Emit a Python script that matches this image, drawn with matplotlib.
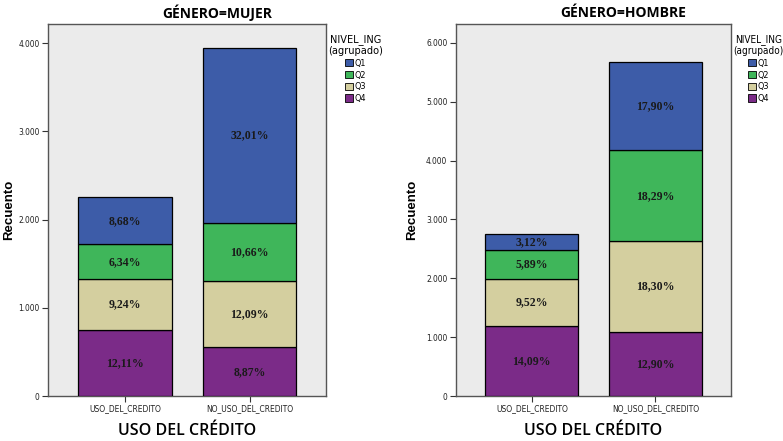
import matplotlib.pyplot as plt
from matplotlib.patches import Patch

# categories on the x axis and income levels (stack order bottom -> top is Q4, Q3, Q2, Q1)
categories = ["USO_DEL_CREDITO", "NO_USO_DEL_CREDITO"]
levels = ["Q1", "Q2", "Q3", "Q4"]

# counts
mujer_q1 = [538, 1985]
mujer_q2 = [393, 661]
mujer_q3 = [573, 750]
mujer_q4 = [751, 550]
mujer_pct_q1 = ["8,68%", "32,01%"]
mujer_pct_q2 = ["6,34%", "10,66%"]
mujer_pct_q3 = ["9,24%", "12,09%"]
mujer_pct_q4 = ["12,11%", "8,87%"]

hombre_q1 = [263, 1509]
hombre_q2 = [497, 1542]
hombre_q3 = [803, 1543]
hombre_q4 = [1188, 1087]
hombre_pct_q1 = ["3,12%", "17,90%"]
hombre_pct_q2 = ["5,89%", "18,29%"]
hombre_pct_q3 = ["9,52%", "18,30%"]
hombre_pct_q4 = ["14,09%", "12,90%"]

mujer_ticks = [0, 1000, 2000, 3000, 4000]
hombre_ticks = [0, 1000, 2000, 3000, 4000, 5000, 6000]

colors = {"Q1": "#3d5ca8", "Q2": "#3fb65a", "Q3": "#d4cf9f", "Q4": "#7b2b88"}
narrow = {"family": "DejaVu Sans", "stretch": "condensed"}
serif = ["Liberation Serif", "DejaVu Serif"]
sans = ["Open Sans", "DejaVu Sans"]

fig = plt.figure(figsize=(7.83, 4.41), dpi=100)
ax_m = fig.add_axes([0.0613, 0.102, 0.355, 0.8435])
ax_h = fig.add_axes([0.582, 0.102, 0.3516, 0.8435])


def fmt_thousands(v):
    if v == 0:
        return "0"
    return f"{int(v):,}".replace(",", ".")


def draw_panel(ax, series, labels, ticks, ymax, ylab_x, title_size):
    x = list(range(len(categories)))
    bottom = [0] * len(categories)
    # stack from Q4 at the bottom up to Q1
    for lvl in ["Q4", "Q3", "Q2", "Q1"]:
        vals = series[lvl]
        ax.bar(x, vals, width=0.75, bottom=bottom, color=colors[lvl],
               edgecolor="black", linewidth=0.9, zorder=3)
        for i, v in enumerate(vals):
            ax.text(x[i], bottom[i] + v / 2, labels[lvl][i], ha="center", va="center",
                    fontsize=8.5, fontweight="bold", family=serif, color="#1a1a1a", zorder=4)
        bottom = [b + v for b, v in zip(bottom, vals)]

    ax.set_facecolor("#ebebeb")
    ax.set_xlim(-0.616, 1.612)
    ax.set_ylim(0, ymax)
    ax.set_xticks(x)
    ax.set_xticklabels(categories, fontsize=6, color="#222222", **narrow)
    ax.set_yticks(ticks)
    ax.set_yticklabels([fmt_thousands(t) for t in ticks], fontsize=6, color="#222222", **narrow)
    ax.tick_params(axis="both", length=4, width=0.8, color="#333333", pad=2)
    for s in ax.spines.values():
        s.set_color("#555555")
        s.set_linewidth(1.0)
    ax.set_xlabel("USO DEL CRÉDITO", family=sans, fontsize=11.5, fontweight="semibold", labelpad=7)
    ax.set_ylabel("Recuento", family=["Liberation Sans", "DejaVu Sans"], fontsize=9.5,
                  fontweight="bold")
    ax.yaxis.set_label_coords(ylab_x, 0.5)

    handles = [Patch(facecolor=colors[l], edgecolor="black", linewidth=0.6) for l in levels]
    leg = ax.legend(handles, levels, title="NIVEL_ING\n(agrupado)", loc="upper left",
                    bbox_to_anchor=(1.0, 0.98), frameon=False, handlelength=0.85,
                    handleheight=0.85, handletextpad=0.15, labelspacing=0.3,
                    borderaxespad=0.05, borderpad=0.2,
                    prop={"family": "DejaVu Sans", "stretch": "condensed", "size": 6.5})
    title = leg.get_title()
    title.set_family("DejaVu Sans")
    title.set_stretch("condensed")
    title.set_fontsize(title_size)
    title.set_multialignment("center")


draw_panel(ax_m,
           {"Q1": mujer_q1, "Q2": mujer_q2, "Q3": mujer_q3, "Q4": mujer_q4},
           {"Q1": mujer_pct_q1, "Q2": mujer_pct_q2, "Q3": mujer_pct_q3, "Q4": mujer_pct_q4},
           mujer_ticks, 4215, -0.12, 7.8)
draw_panel(ax_h,
           {"Q1": hombre_q1, "Q2": hombre_q2, "Q3": hombre_q3, "Q4": hombre_q4},
           {"Q1": hombre_pct_q1, "Q2": hombre_pct_q2, "Q3": hombre_pct_q3, "Q4": hombre_pct_q4},
           hombre_ticks, 6318, -0.137, 7.2)

fig.text(217 / 783, 1 - 13 / 441, "GÉNERO=MUJER", ha="center", va="center",
         family=sans, fontsize=10, fontweight="bold")
fig.text(623 / 783, 1 - 13 / 441, "GÉNERO=HOMBRE", ha="center", va="center",
         family=sans, fontsize=10, fontweight="bold")

fig.savefig("out.png", dpi=100, facecolor="white")
